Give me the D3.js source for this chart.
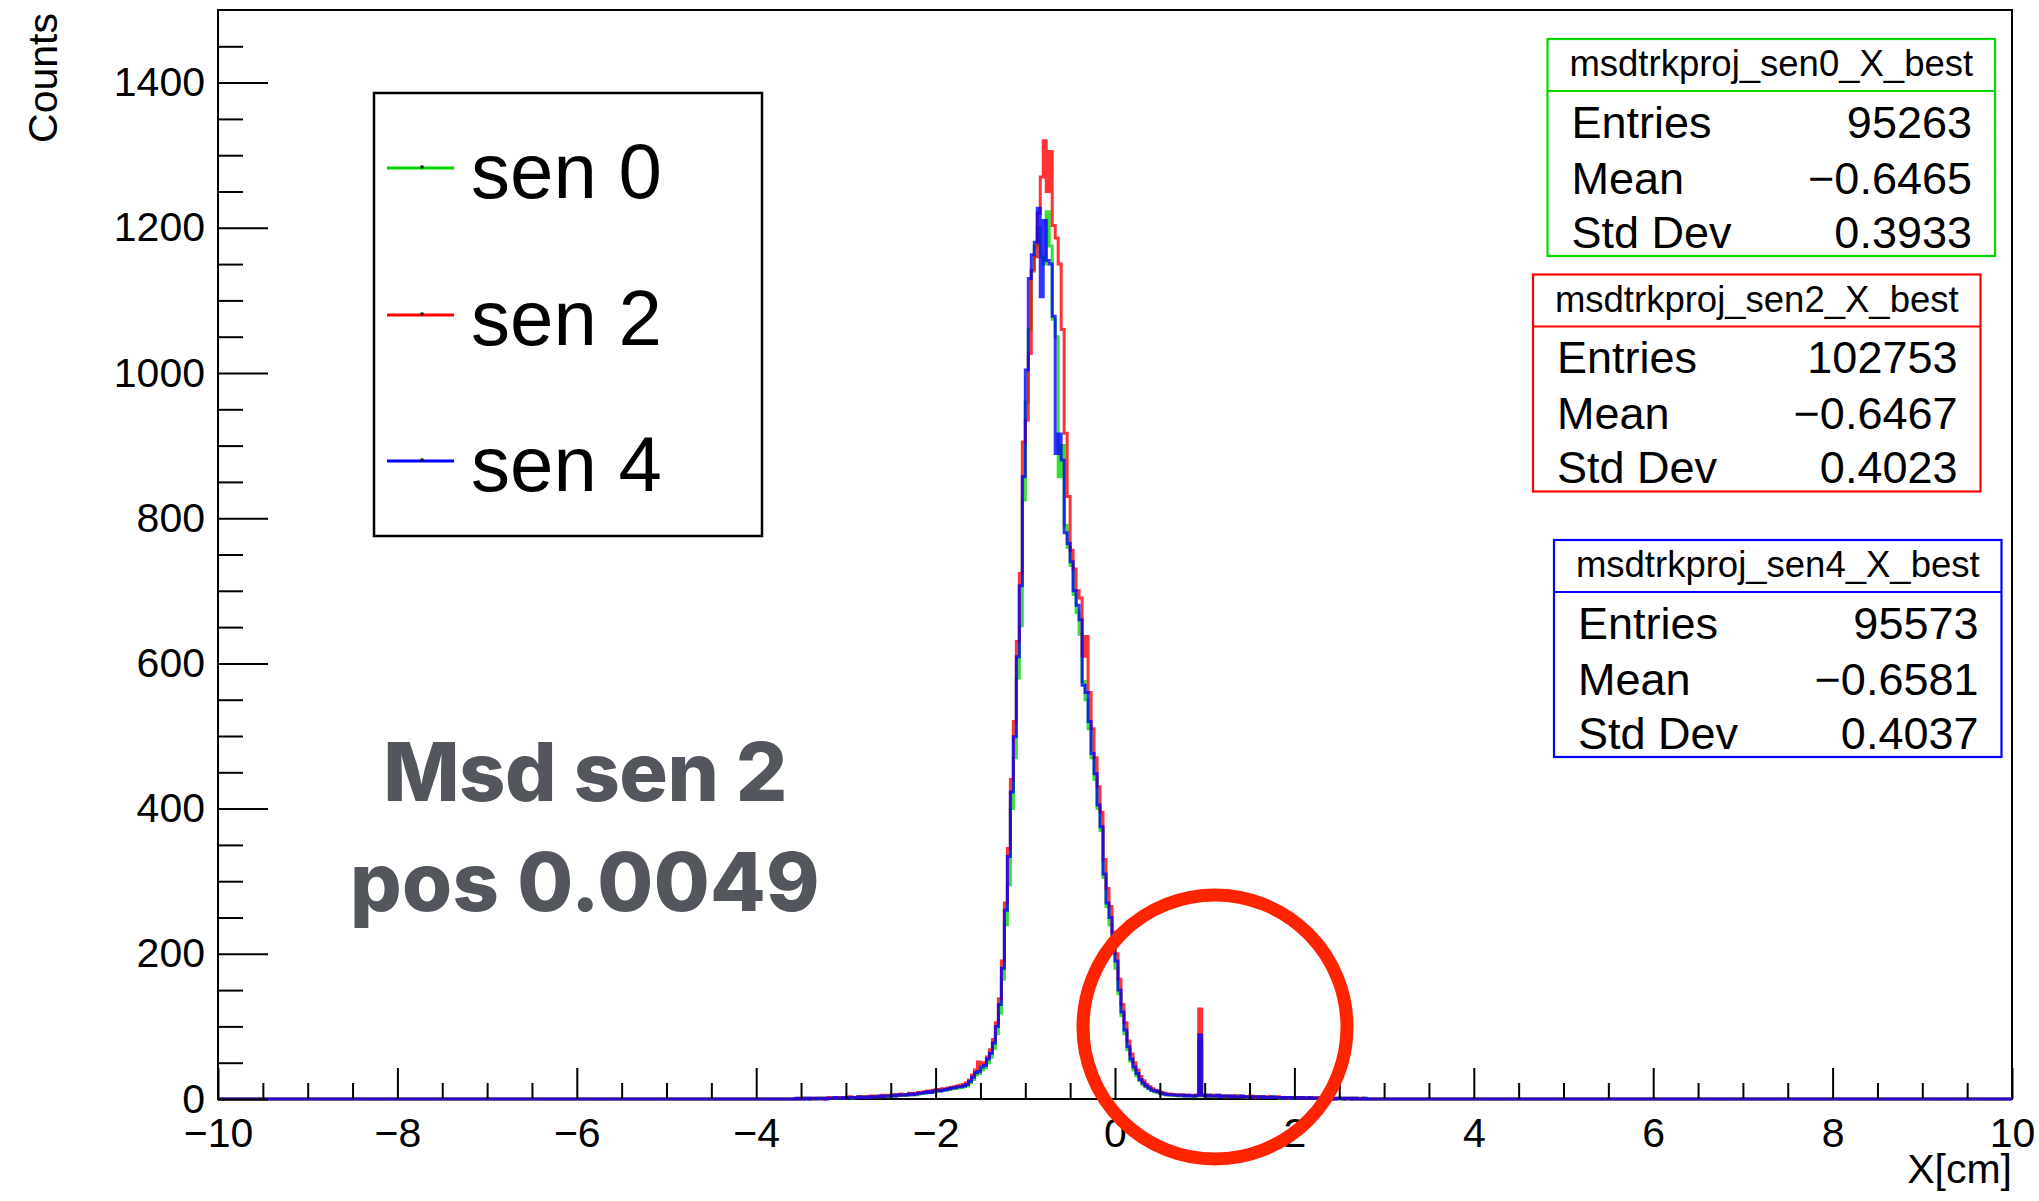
<!DOCTYPE html>
<html>
<head>
<meta charset="utf-8">
<script src="https://cdn.jsdelivr.net/npm/d3@7"></script>
<style>
  html, body { margin: 0; padding: 0; background: #ffffff; }
  svg { display: block; }
</style>
</head>
<body>
<script>
// ---------------- DATA ----------------
// Histogram binning (ROOT TH1, 600 bins on [-10, 10]); arrays start at binStart
const xDomain = [-10, 10];
const yDomain = [0, 1500];
const binWidth = 1 / 30;
const binStart = -3.6;

const seriesNames = ["sen 0", "sen 2", "sen 4"];
const seriesColors = ["#00d800", "#ff0000", "#0000ff"];

const sen0Counts = [
  0,0,0,1,0,1,0,0,1,1,0,1,1,
  1,1,2,1,1,2,2,1,2,2,3,2,2,3,3,
  3,3,4,4,3,5,4,5,5,6,5,6,7,6,7,
  8,8,9,10,10,11,11,12,12,13,14,15,15,16,17,18,
  22,27,33,35,40,43,50,58,70,90,118,165,
  240,295,400,470,580,652,
  825,960,1060,1140,1175,1200,1160,1150,1222,1175,1074,1050,857,900,790,
  760,735,695,670,640,575,550,510,470,440,400,370,305,265,240,
  205,180,145,115,90,68,52,40,32,25,20,17,14,12,10,9,8,7,6,5,
  5,5,4,5,4,4,4,3,4,
  77,
  4,4,5,4,3,4,4,3,4,3,3,4,3,3,3,2,3,3,2,3,2,2,
  2,2,3,2,1,2,2,1,2,1,2,1,1,2,1,1,1,1,1,1,1,0,1,1,0,1,0,1,0,1,0,0,1,0
];
const sen2Counts = [
  0,0,1,0,1,1,0,1,1,1,0,1,2,
  1,1,2,2,1,2,3,2,2,3,2,3,3,4,3,
  4,3,5,4,5,5,6,5,7,6,6,8,7,8,9,
  9,10,11,10,12,13,12,14,14,15,16,17,18,19,20,22,
  26,33,40,51,48,50,58,68,82,105,138,190,
  270,345,440,520,630,724,
  905,935,1027,1142,1160,1220,1270,1320,1250,1305,1203,1186,1150,1060,917,
  830,756,730,700,690,610,637,560,510,470,430,395,330,290,265,
  230,200,165,130,105,80,62,50,40,31,25,20,17,14,12,11,9,8,7,7,
  6,6,5,6,5,5,5,4,5,
  124,
  5,5,4,5,4,5,4,4,3,4,4,3,4,3,3,3,4,2,3,3,2,3,
  3,2,2,3,2,2,1,2,2,2,1,2,1,2,1,1,2,1,1,1,1,1,0,1,1,1,0,1,0,1,0,1,0,0
];
const sen4Counts = [
  0,1,0,0,1,0,1,1,0,1,1,0,1,
  1,2,1,1,2,1,2,2,1,3,2,2,3,2,3,
  3,4,3,4,4,5,4,6,5,5,6,7,6,7,8,
  8,9,10,9,11,12,11,12,13,14,15,15,17,17,18,20,
  24,30,36,38,44,46,55,63,77,100,130,180,
  260,334,423,499,609,707,
  857,1004,1130,1163,1180,1227,1105,1210,1155,1150,1078,889,916,880,780,
  765,740,700,680,660,570,560,520,476,448,405,375,310,270,250,
  215,190,150,120,95,72,55,44,35,27,22,18,15,12,11,10,8,7,6,6,
  6,5,5,5,4,5,4,4,5,
  88,
  5,4,5,4,4,5,3,4,4,3,4,3,3,4,3,3,2,3,3,2,3,2,
  2,3,2,2,2,1,2,2,1,2,1,2,1,1,2,1,1,1,1,2,1,1,0,1,1,0,1,1,0,1,0,0,1,0
];

const xTickValues = [-10, -8, -6, -4, -2, 0, 2, 4, 6, 8, 10];
const yTickValues = [0, 200, 400, 600, 800, 1000, 1200, 1400];

const statTitles = ["msdtrkproj_sen0_X_best", "msdtrkproj_sen2_X_best", "msdtrkproj_sen4_X_best"];
const statEntries = ["95263", "102753", "95573"];
const statMeans = ["\u22120.6465", "\u22120.6467", "\u22120.6581"];
const statStdDevs = ["0.3933", "0.4023", "0.4037"];
const statLabels = ["Entries", "Mean", "Std Dev"];

const noteLines = ["Msd sen 2", "pos 0.0049"];
const xLabel = "X[cm]";
const yLabel = "Counts";

// ---------------- LAYOUT ----------------
const W = 2039, H = 1201;
const frame = { left: 218, right: 2012, top: 10, bottom: 1099 };
const FONT = "'Liberation Sans', Arial, Helvetica, sans-serif";

const svg = d3.select("body").append("svg")
  .attr("width", W).attr("height", H)
  .attr("viewBox", `0 0 ${W} ${H}`);

svg.append("rect").attr("width", W).attr("height", H).attr("fill", "#ffffff");

const x = d3.scaleLinear().domain(xDomain).range([frame.left, frame.right]);
const y = d3.scaleLinear().domain(yDomain).range([frame.bottom, frame.top]);

// frame
svg.append("rect")
  .attr("x", frame.left).attr("y", frame.top)
  .attr("width", frame.right - frame.left).attr("height", frame.bottom - frame.top)
  .attr("fill", "none").attr("stroke", "#000").attr("stroke-width", 2);

// ---------------- HISTOGRAMS ----------------
function buildBins(counts) {
  const nTotal = Math.round((xDomain[1] - xDomain[0]) / binWidth);
  const startIdx = Math.round((binStart - xDomain[0]) / binWidth);
  const bins = [];
  for (let i = 0; i < nTotal; i++) {
    const j = i - startIdx;
    const v = (j >= 0 && j < counts.length) ? counts[j] : 0;
    bins.push({ x0: xDomain[0] + i * binWidth, v: v });
  }
  bins.push({ x0: xDomain[1], v: bins[bins.length - 1].v });
  return bins;
}

const stepLine = d3.line()
  .x(d => x(d.x0))
  .y(d => y(d.v))
  .curve(d3.curveStepAfter);

const allCounts = [sen0Counts, sen2Counts, sen4Counts];
const histG = svg.append("g");
allCounts.forEach((c, i) => {
  histG.append("path")
    .attr("d", stepLine(buildBins(c)))
    .attr("fill", "none")
    .attr("stroke", seriesColors[i])
    .attr("stroke-width", 3)
    .attr("stroke-opacity", 0.8)
    .attr("stroke-linejoin", "miter");
});

// ---------------- AXES ----------------
const xMinor = d3.range(-10, 10.001, 0.5).filter(v => Math.abs(v / 2 - Math.round(v / 2)) > 1e-6);
const yMinor = d3.range(50, 1500, 50).filter(v => v % 200 !== 0);

function styleAxis(g) {
  g.select(".domain").remove();
  g.selectAll(".tick line").attr("stroke", "#000").attr("stroke-width", 2);
  g.selectAll(".tick text").attr("fill", "#000").style("font-family", FONT).style("font-size", "41px");
}

svg.append("g")
  .attr("transform", `translate(0,${frame.bottom})`)
  .call(d3.axisBottom(x).tickValues(xMinor).tickSize(-16).tickFormat(""))
  .call(styleAxis);
svg.append("g")
  .attr("transform", `translate(0,${frame.bottom})`)
  .call(d3.axisBottom(x).tickValues(xTickValues).tickSize(-31).tickPadding(19).tickFormat(d3.format("d")))
  .call(styleAxis);

svg.append("g")
  .attr("transform", `translate(${frame.left},0)`)
  .call(d3.axisLeft(y).tickValues(yMinor).tickSize(-25).tickFormat(""))
  .call(styleAxis);
svg.append("g")
  .attr("transform", `translate(${frame.left},0)`)
  .call(d3.axisLeft(y).tickValues(yTickValues).tickSize(-50).tickPadding(13).tickFormat(d3.format("d")))
  .call(styleAxis);

// axis titles
svg.append("text")
  .attr("transform", "translate(57,13) rotate(-90)")
  .attr("text-anchor", "end")
  .style("font-family", FONT).style("font-size", "41px")
  .text(yLabel);

svg.append("text")
  .attr("x", frame.right).attr("y", 1183)
  .attr("text-anchor", "end")
  .style("font-family", FONT).style("font-size", "41px")
  .text(xLabel);

// ---------------- LEGEND ----------------
const legend = svg.append("g");
legend.append("rect")
  .attr("x", 374).attr("y", 93).attr("width", 388).attr("height", 443)
  .attr("fill", "#fff").attr("stroke", "#000").attr("stroke-width", 2.5);
const legendY = [168, 315, 461];
seriesNames.forEach((name, i) => {
  legend.append("line")
    .attr("x1", 387).attr("x2", 454)
    .attr("y1", legendY[i]).attr("y2", legendY[i])
    .attr("stroke", seriesColors[i]).attr("stroke-width", 3);
  legend.append("rect")
    .attr("x", 420.5).attr("y", legendY[i] - 2.5).attr("width", 3).attr("height", 3)
    .attr("fill", "#000");
  legend.append("text")
    .attr("x", 471).attr("y", legendY[i] + 30)
    .style("font-family", FONT).style("font-size", "78px")
    .text(name);
});

// ---------------- STAT BOXES ----------------
const statBoxes = [
  { x: 1547.5, y: 39 },
  { x: 1533, y: 274.5 },
  { x: 1554, y: 540 }
];
const boxW = 447.5, boxH = 217, headH = 52;
statBoxes.forEach((b, i) => {
  const g = svg.append("g");
  g.append("rect")
    .attr("x", b.x).attr("y", b.y).attr("width", boxW).attr("height", boxH)
    .attr("fill", "#fff").attr("stroke", seriesColors[i]).attr("stroke-width", 2.2);
  g.append("line")
    .attr("x1", b.x).attr("x2", b.x + boxW)
    .attr("y1", b.y + headH).attr("y2", b.y + headH)
    .attr("stroke", seriesColors[i]).attr("stroke-width", 2.2);
  g.append("text")
    .attr("x", b.x + boxW / 2).attr("y", b.y + 37)
    .attr("text-anchor", "middle")
    .style("font-family", FONT).style("font-size", "36.5px")
    .text(statTitles[i]);
  const vals = [statEntries[i], statMeans[i], statStdDevs[i]];
  const rowY = [98.5, 154.5, 208.5];
  statLabels.forEach((lab, r) => {
    g.append("text")
      .attr("x", b.x + 24).attr("y", b.y + rowY[r])
      .style("font-family", FONT).style("font-size", "45px")
      .text(lab);
    g.append("text")
      .attr("x", b.x + boxW - 23).attr("y", b.y + rowY[r])
      .attr("text-anchor", "end")
      .style("font-family", FONT).style("font-size", "45px")
      .text(vals[r]);
  });
});

// ---------------- ANNOTATIONS ----------------
const noteY = [801, 911];
const noteSpacing = ["-0.5px", "0.3px"];
noteLines.forEach((t, i) => {
  svg.append("text")
    .attr("x", 585).attr("y", noteY[i])
    .attr("text-anchor", "middle")
    .attr("fill", "#53575d")
    .style("font-family", "Inter, 'Open Sans', sans-serif")
    .style("font-weight", 800)
    .style("font-size", "81px")
    .style("letter-spacing", noteSpacing[i])
    .text(t);
});

svg.append("circle")
  .attr("cx", 1215).attr("cy", 1027).attr("r", 132)
  .attr("fill", "none").attr("stroke", "#ff2400").attr("stroke-width", 13);
</script>
</body>
</html>
